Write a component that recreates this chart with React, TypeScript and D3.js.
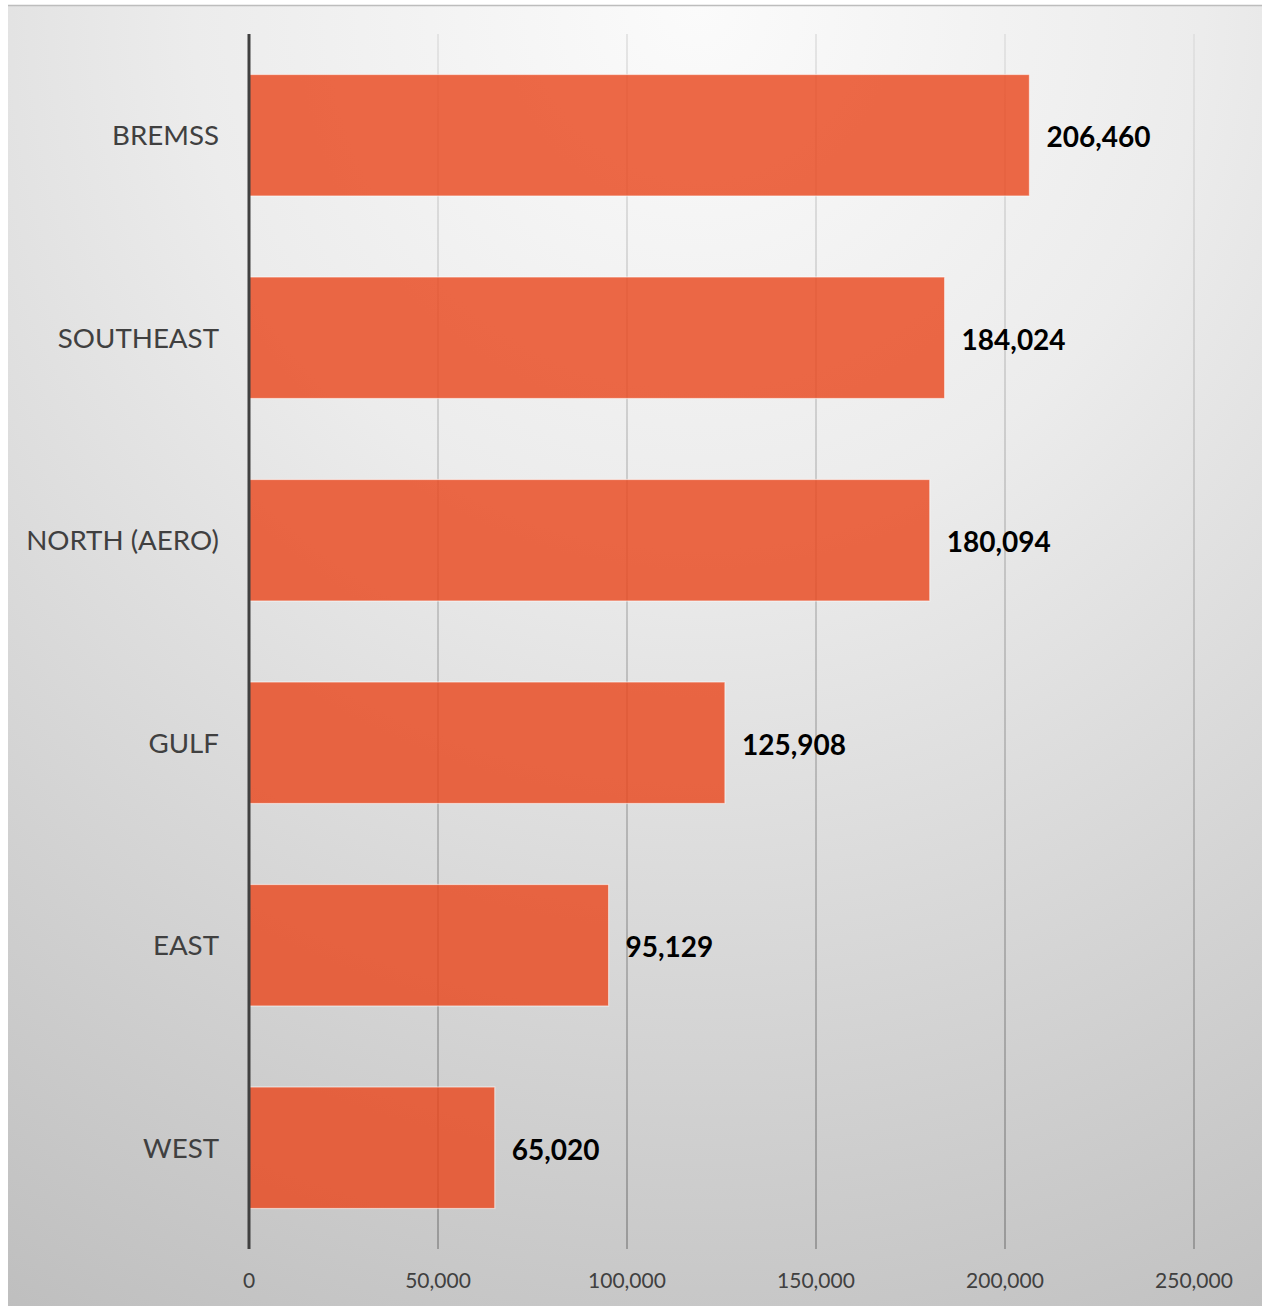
import React from "react";
import * as d3 from "d3";

const categories = ["BREMSS", "SOUTHEAST", "NORTH (AERO)", "GULF", "EAST", "WEST"];
const values = [206460, 184024, 180094, 125908, 95129, 65020];
const ticks = [0, 50000, 100000, 150000, 200000, 250000];

const W = 1262;
const H = 1307;
const FONT = "Lato, 'Open Sans', sans-serif";

export default function App() {
  const x = d3.scaleLinear().domain([0, 250000]).range([249, 1194]);
  const y = d3.scaleBand<string>().domain(categories).range([34, 1249]).paddingInner(0.4).paddingOuter(0.2);
  const fmt = d3.format(",");
  const top = 34;
  const bottom = 1249;

  return (
    <svg
      width={W}
      height={H}
      style={{ display: "block", position: "fixed", left: 0, top: 0 }}
      xmlns="http://www.w3.org/2000/svg"
    >
      <defs>
        <radialGradient id="bg" cx="0.55" cy="0" r="1.15" fx="0.55" fy="0">
          <stop offset="0" stopColor="#fbfbfb" />
          <stop offset="0.35" stopColor="#ececec" />
          <stop offset="1" stopColor="#bebebe" />
        </radialGradient>
        <linearGradient id="grid" gradientUnits="userSpaceOnUse" x1="0" y1={top} x2="0" y2={bottom}>
          <stop offset="0" stopColor="#dedede" />
          <stop offset="1" stopColor="#8a8a8a" />
        </linearGradient>
      </defs>
      <rect x={0} y={0} width={W} height={H} fill="#ffffff" />
      <rect x={8} y={5} width={W - 8} height={H - 6} fill="url(#bg)" />
      <line x1={8} x2={W} y1={5.5} y2={5.5} stroke="#bdbdbd" strokeWidth={1.5} />

      {ticks.slice(1).map((t) => (
        <line key={t} x1={x(t)} x2={x(t)} y1={top} y2={bottom} stroke="url(#grid)" strokeWidth={1.5} />
      ))}

      {categories.map((c, i) => (
        <rect
          key={c}
          x={x(0)}
          y={y(c)!}
          width={x(values[i]) - x(0)}
          height={y.bandwidth()}
          fill="rgb(233,72,30)"
          fillOpacity={0.82}
          stroke="rgba(255,255,255,0.55)"
          strokeWidth={1.2}
        />
      ))}

      <line x1={249} x2={249} y1={top} y2={bottom} stroke="#404040" strokeWidth={3} />

      {categories.map((c) => (
        <text
          key={c}
          x={219}
          y={y(c)! + y.bandwidth() / 2 + 10}
          textAnchor="end"
          fontFamily={FONT}
          fontSize={27.7}
          fill="#404040"
        >
          {c}
        </text>
      ))}

      {categories.map((c, i) => (
        <text
          key={c}
          x={x(values[i]) + 17}
          y={y(c)! + y.bandwidth() / 2 + 12}
          fontFamily={FONT}
          fontSize={28}
          fontWeight={700}
          fill="#000000"
        >
          {fmt(values[i])}
        </text>
      ))}

      {ticks.map((t) => (
        <text key={t} x={x(t)} y={1288} textAnchor="middle" fontFamily={FONT} fontSize={21} fill="#404040">
          {fmt(t)}
        </text>
      ))}
    </svg>
  );
}
